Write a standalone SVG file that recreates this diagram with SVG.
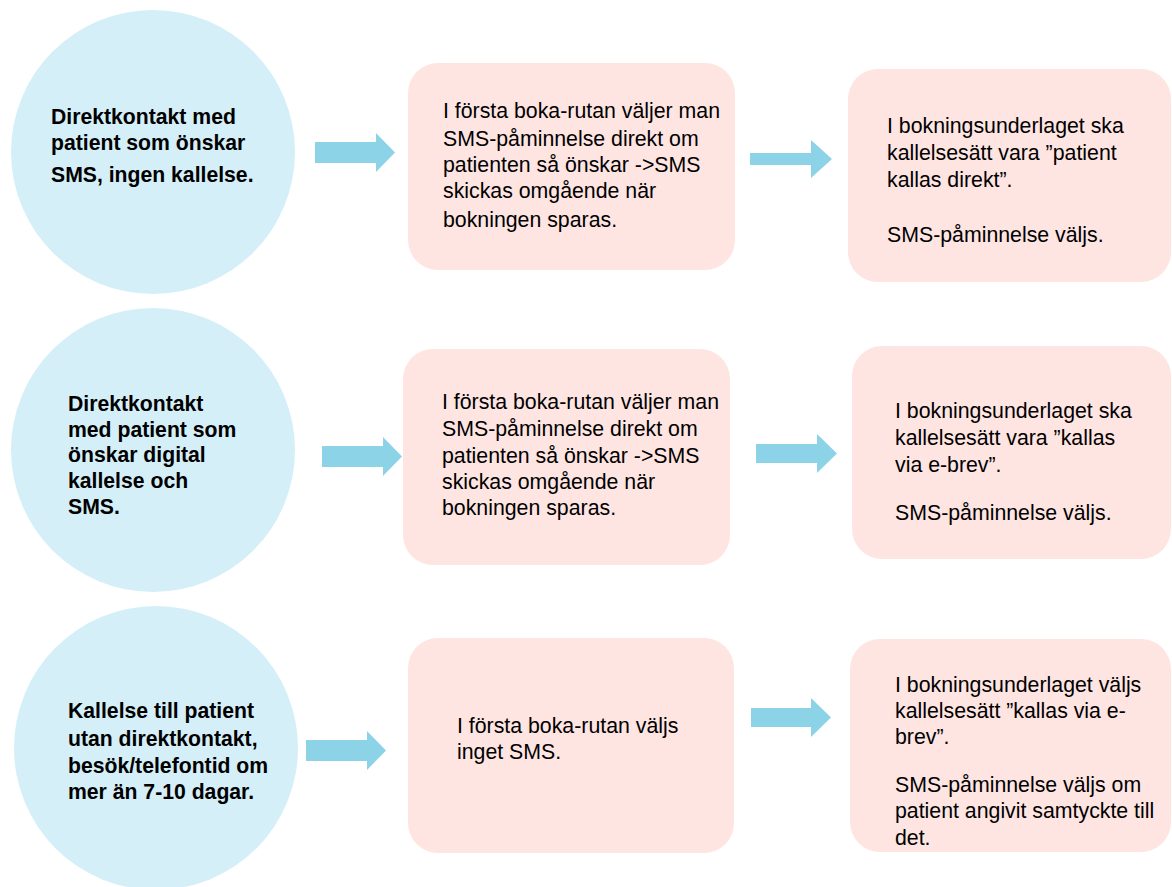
<svg xmlns="http://www.w3.org/2000/svg" width="1172" height="887" viewBox="0 0 1172 887">
<style>
.circ{fill:#D4EFF8}
.box{fill:#FEE5E2}
.arr{fill:#8DD3E7}
.b{font-family:"Liberation Sans",Arial,sans-serif;font-weight:bold;font-size:21.2px;fill:#000}
.t{font-family:"Liberation Sans",Arial,sans-serif;font-size:21.3px;fill:#000}
</style>
<rect width="1172" height="887" fill="#fff"/>
<g id="c1"><circle class="circ" cx="153" cy="152" r="142"/>
<text class="b"><tspan x="51" y="124">Direktkontakt med</tspan><tspan x="51" y="150">patient som önskar</tspan><tspan x="51" y="182">SMS, ingen kallelse.</tspan></text></g>
<g id="b1"><rect class="box" x="408" y="63" width="327" height="207" rx="30"/>
<text class="t"><tspan x="443" y="118">I första boka-rutan väljer man</tspan><tspan x="443" y="146">SMS-påminnelse direkt om</tspan><tspan x="443" y="172">patienten så önskar -&gt;SMS</tspan><tspan x="443" y="198">skickas omgående när</tspan><tspan x="443" y="227">bokningen sparas.</tspan></text></g>
<g id="r1"><rect class="box" x="848" y="69" width="323" height="213" rx="30"/>
<text class="t"><tspan x="887" y="133">I bokningsunderlaget ska</tspan><tspan x="887" y="160">kallelsesätt vara ”patient</tspan><tspan x="887" y="187">kallas direkt”.</tspan><tspan x="887" y="242">SMS-påminnelse väljs.</tspan></text></g>
<g id="c2"><circle class="circ" cx="153" cy="450" r="142"/>
<text class="b"><tspan x="68" y="411">Direktkontakt</tspan><tspan x="68" y="437">med patient som</tspan><tspan x="68" y="462">önskar digital</tspan><tspan x="68" y="488">kallelse och</tspan><tspan x="68" y="514">SMS.</tspan></text></g>
<g id="b2"><rect class="box" x="403" y="349" width="327" height="216" rx="30"/>
<text class="t"><tspan x="442" y="409">I första boka-rutan väljer man</tspan><tspan x="442" y="436">SMS-påminnelse direkt om</tspan><tspan x="442" y="463">patienten så önskar -&gt;SMS</tspan><tspan x="442" y="489">skickas omgående när</tspan><tspan x="442" y="515">bokningen sparas.</tspan></text></g>
<g id="r2"><rect class="box" x="852" y="346" width="319" height="213" rx="30"/>
<text class="t"><tspan x="895" y="418">I bokningsunderlaget ska</tspan><tspan x="895" y="445">kallelsesätt vara ”kallas</tspan><tspan x="895" y="472">via e-brev”.</tspan><tspan x="895" y="520">SMS-påminnelse väljs.</tspan></text></g>
<g id="c3"><circle class="circ" cx="156" cy="748" r="142"/>
<text class="b"><tspan x="68" y="718">Kallelse till patient</tspan><tspan x="68" y="746">utan direktkontakt,</tspan><tspan x="68" y="773">besök/telefontid om</tspan><tspan x="68" y="799">mer än 7-10 dagar.</tspan></text></g>
<g id="b3"><rect class="box" x="408" y="638" width="326" height="215" rx="30"/>
<text class="t"><tspan x="457" y="733">I första boka-rutan väljs</tspan><tspan x="457" y="759">inget SMS.</tspan></text></g>
<g id="r3"><rect class="box" x="850" y="639" width="321" height="213" rx="30"/>
<text class="t"><tspan x="895" y="692">I bokningsunderlaget väljs</tspan><tspan x="895" y="718">kallelsesätt ”kallas via e-</tspan><tspan x="895" y="744">brev”.</tspan><tspan x="895" y="792">SMS-påminnelse väljs om</tspan><tspan x="895" y="818">patient angivit samtyckte till</tspan><tspan x="895" y="845">det.</tspan></text></g>
<g id="connectors">
<polygon class="arr" points="315,142 376,142 376,133 395,152.5 376,172 376,163 315,163"/>
<polygon class="arr" points="750,153 811,153 811,140 832,159 811,178 811,165 750,165"/>
<polygon class="arr" points="322,446 383,446 383,437 402,456.5 383,476 383,467 322,467"/>
<polygon class="arr" points="756,444 817,444 817,434 837,453.5 817,473 817,463 756,463"/>
<polygon class="arr" points="306,740 367,740 367,731 386,750.5 367,770 367,761 306,761"/>
<polygon class="arr" points="751,708 811,708 811,698 831,717.5 811,737 811,727 751,727"/>
</g>
</svg>
